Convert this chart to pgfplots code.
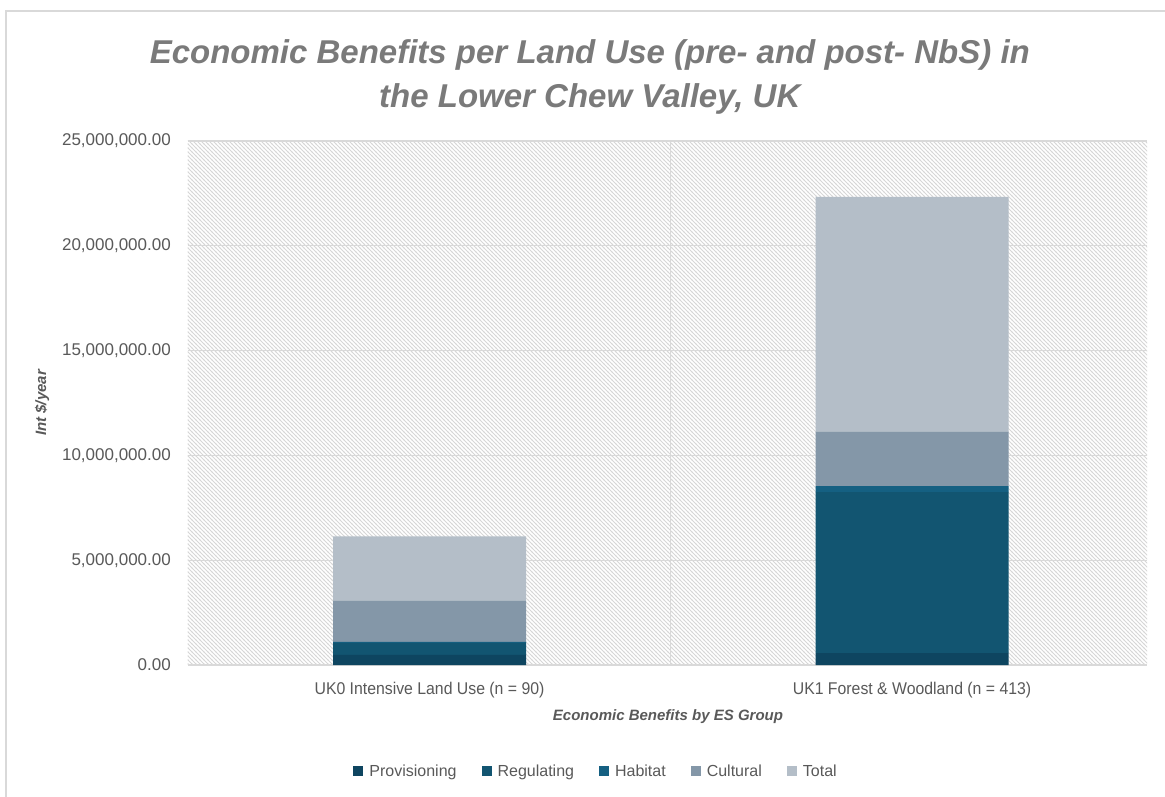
\documentclass[border=0pt]{standalone}
\usepackage{pgfplots}
\pgfplotsset{compat=1.18}
\usepackage{fontspec}
\setmainfont{Liberation Sans}
\newfontfamily\narrowfont[FakeStretch=0.93]{Liberation Sans}
\usetikzlibrary{patterns}

\definecolor{cProv}{HTML}{0E4560}
\definecolor{cReg}{HTML}{125571}
\definecolor{cHab}{HTML}{156082}
\definecolor{cCult}{HTML}{8497A8}
\definecolor{cTot}{HTML}{B4BEC8}
\definecolor{gridgray}{HTML}{D9D9D9}
\definecolor{hatchgray}{HTML}{D6D6D6}
\definecolor{txtgray}{HTML}{595959}
\definecolor{titlegray}{HTML}{7A7A7A}

% fine "\\\" hatching for the plot area
\pgfdeclarepatternformonly{finehatch}{\pgfqpoint{-0.5pt}{-0.5pt}}{\pgfqpoint{4.5pt}{4.5pt}}{\pgfqpoint{4pt}{4pt}}{%
  \pgfsetlinewidth{0.9pt}%
  \pgfpathmoveto{\pgfqpoint{-0.5pt}{4.5pt}}%
  \pgfpathlineto{\pgfqpoint{4.5pt}{-0.5pt}}%
  \pgfusepath{stroke}}

\begin{document}
\begin{tikzpicture}
\useasboundingbox (0pt,0pt) rectangle (1165pt,796pt);
\fill[white] (0pt,0pt) rectangle (1165pt,796pt);
% chart frame (cut at right and bottom)
\draw[gridgray, line width=2pt] (5.5pt,-10pt) -- (5.5pt,785pt) -- (1180pt,785pt);

\begin{axis}[
  at={(188pt,131pt)}, anchor=south west,
  scale only axis, width=959pt, height=524pt,
  ybar stacked, bar width=193pt,
  xmin=-0.5005, xmax=1.487, ymin=0, ymax=25000000,
  xtick={0,1},
  xticklabels={UK0 Intensive Land Use (n = 90), UK1 Forest \& Woodland (n = 413)},
  ytick={0,5000000,10000000,15000000,20000000,25000000},
  scaled y ticks=false,
  /pgf/number format/.cd, fixed, fixed zerofill, precision=2, 1000 sep={,}, assume math mode=true,
  /pgfplots/.cd,
  major tick length=0pt,
  axis lines*=left,
  x axis line style={draw=gridgray, line width=1.5pt},
  y axis line style={draw=none},
  ymajorgrids, grid style={gridgray, line width=1.3pt},
  extra x ticks={0.5}, extra x tick labels={},
  extra x tick style={xmajorgrids=true, major tick length=0pt},
  axis background/.style={pattern=finehatch, pattern color=hatchgray},
  yticklabel style={anchor=east, inner sep=0pt, xshift=-17pt, text=txtgray,
    font=\fontsize{17}{19}\selectfont},
  xticklabel style={anchor=center, inner sep=0pt, yshift=-25pt, text=txtgray,
    font=\narrowfont\fontsize{17}{19}\selectfont},
  title={Economic Benefits per Land Use (pre- and post- NbS) in\\the Lower Chew Valley, UK},
  title style={at={(axis description cs:0.419,1.111)}, anchor=center, align=center,
    text=titlegray, font=\bfseries\itshape\fontsize{33}{44}\selectfont},
  xlabel={Economic Benefits by ES Group},
  xlabel style={at={(axis description cs:0.5005,-0.0992)}, anchor=center,
    text=txtgray, font=\bfseries\itshape\fontsize{15}{17}\selectfont},
  ylabel={Int \$/year},
  ylabel style={at={(axis description cs:-0.1522,0.5)}, anchor=center, rotate=0,
    text=txtgray, font=\bfseries\itshape\fontsize{15}{17}\selectfont},
  legend columns=5,
  legend style={at={(0.425,-0.2023)}, anchor=center, draw=none, fill=none,
    text=txtgray, font=\fontsize{16}{18}\selectfont,
    /tikz/every odd column/.append style={column sep=5pt},
    /tikz/every even column/.append style={column sep=24pt},
    nodes={inner sep=1pt}},
  legend image code/.code={\fill[#1] (0pt,-5pt) rectangle (10pt,5pt);},
]
\addplot[fill=cProv, draw=none] coordinates {(0,480000) (1,570000)};
\addplot[fill=cReg, draw=none] coordinates {(0,570000) (1,7680000)};
\addplot[fill=cHab, draw=none] coordinates {(0,50000) (1,290000)};
\addplot[fill=cCult, draw=none] coordinates {(0,1960000) (1,2580000)};
\addplot[fill=cTot, draw=none] coordinates {(0,3080000) (1,11220000)};
\legend{Provisioning, Regulating, Habitat, Cultural, Total}
\end{axis}
\end{tikzpicture}
\end{document}
